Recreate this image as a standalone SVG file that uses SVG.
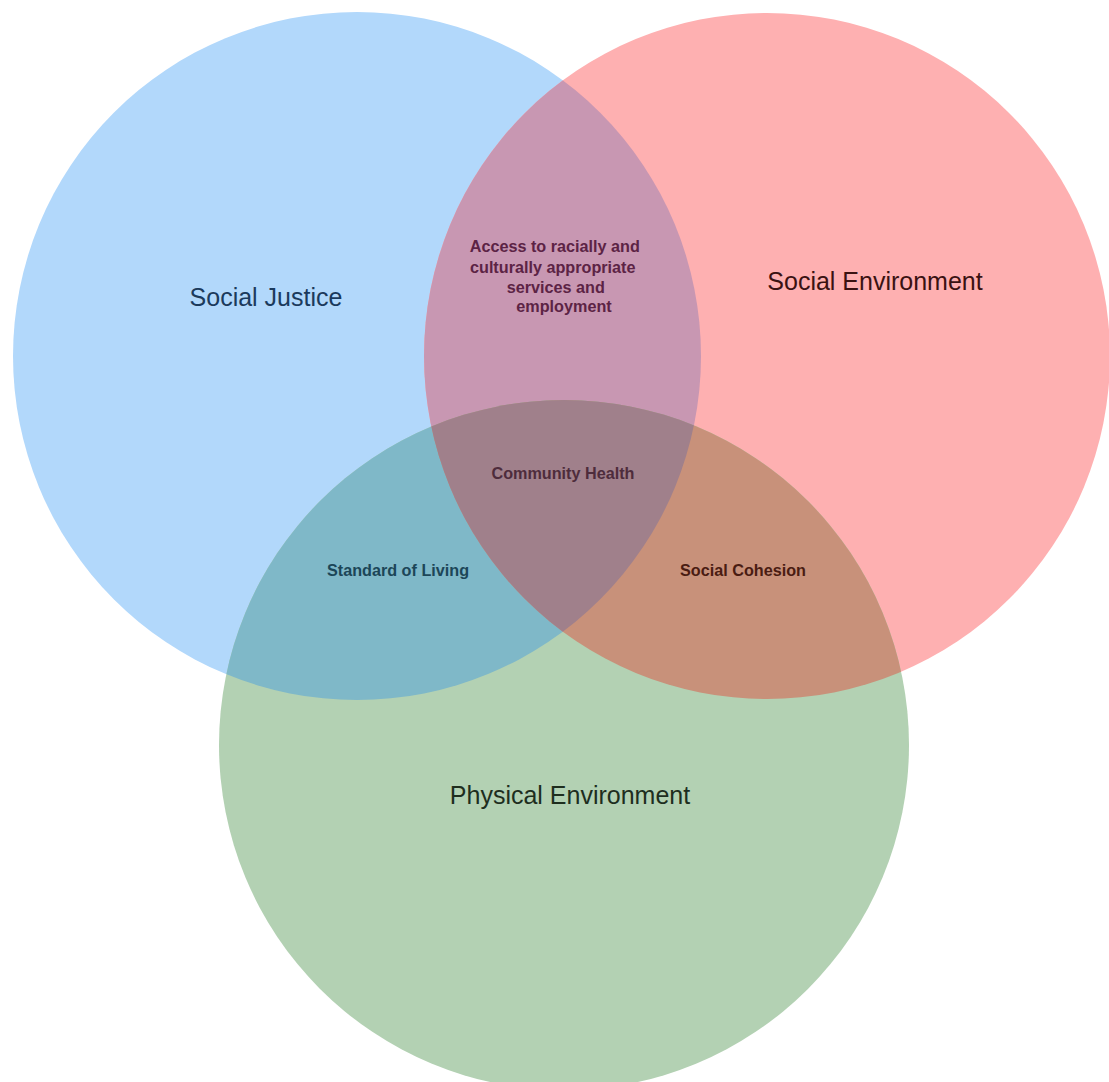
<svg xmlns="http://www.w3.org/2000/svg" width="1109" height="1082" viewBox="0 0 1109 1082">
<style>
  text { font-family: "Liberation Sans", Arial, sans-serif; text-anchor: middle; }
  .big { font-size: 25px; }
  .small { font-size: 16.2px; font-weight: bold; }
</style>
<defs>
  <clipPath id="cBlue"><circle cx="357" cy="356" r="344"/></clipPath>
  <clipPath id="cRed"><circle cx="767" cy="356" r="343"/></clipPath>
</defs>
<rect width="1109" height="1082" fill="#ffffff"/>
<g id="social-justice">
  <circle cx="357" cy="356" r="344" fill="#b2d8fb"/>
</g>
<g id="social-environment">
  <circle cx="767" cy="356" r="343" fill="#feb0b1"/>
</g>
<g id="physical-environment">
  <circle cx="564" cy="745" r="345" fill="#b3d1b3"/>
</g>
<g id="overlaps">
  <g clip-path="url(#cBlue)"><circle cx="767" cy="356" r="343" fill="#c897b2"/></g>
  <g clip-path="url(#cBlue)"><circle cx="564" cy="745" r="345" fill="#7fb8c8"/></g>
  <g clip-path="url(#cRed)"><circle cx="564" cy="745" r="345" fill="#c8917a"/></g>
  <g clip-path="url(#cBlue)"><g clip-path="url(#cRed)"><circle cx="564" cy="745" r="345" fill="#a0808b"/></g></g>
</g>
<g id="labels">
  <text class="big" x="266" y="306" fill="#1b3a5c">Social Justice</text>
  <text class="big" x="875" y="290" fill="#3a1212">Social Environment</text>
  <text class="big" x="570" y="804" fill="#1e2e1e">Physical Environment</text>
  <text class="small" fill="#5c2345">
    <tspan x="557" y="252">Access to racially and</tspan>
    <tspan x="555" y="273">culturally appropriate</tspan>
    <tspan x="558" y="293">services and</tspan>
    <tspan x="564" y="312">employment</tspan>
  </text>
  <text class="small" x="563" y="479" fill="#4e2c3c">Community Health</text>
  <text class="small" x="398" y="576" fill="#1c4658">Standard of Living</text>
  <text class="small" x="743" y="576" fill="#4a1c12">Social Cohesion</text>
</g>
</svg>
